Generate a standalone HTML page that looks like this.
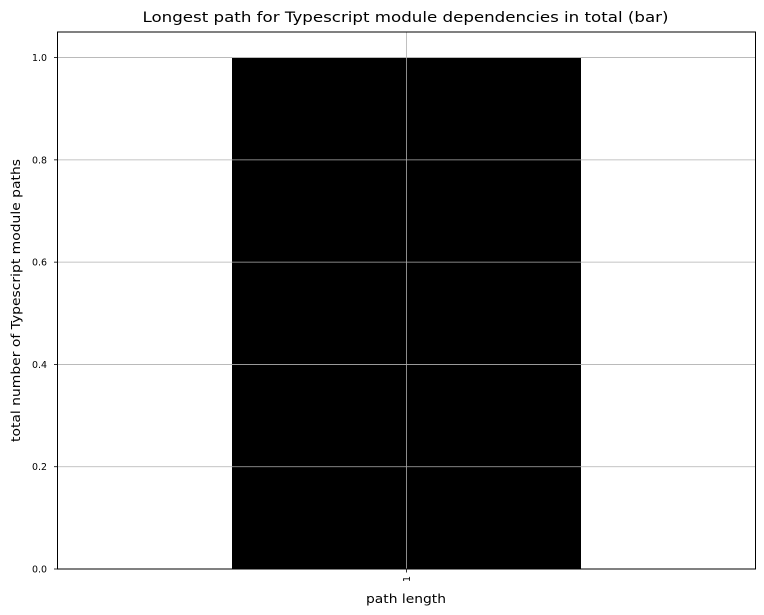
<!DOCTYPE html>
<html><head><meta charset="utf-8"><style>
body{margin:0;background:#fff;}
svg{display:block;font-family:"DejaVu Sans","Liberation Sans",sans-serif;}
</style></head><body>
<svg id="chart" width="764" height="615">
<text x="405.5" y="22" text-anchor="middle" font-size="14.5" textLength="526" lengthAdjust="spacingAndGlyphs">Longest path for Typescript module dependencies in total (bar)</text>
<text x="406" y="603" text-anchor="middle" font-size="12.5" textLength="80" lengthAdjust="spacingAndGlyphs">path length</text>
<text transform="translate(20,300.5) rotate(-90)" text-anchor="middle" font-size="12.5" textLength="283" lengthAdjust="spacingAndGlyphs">total number of Typescript module paths</text>
<g id="plot"></g>
</svg>
<script>
const categories = ["1"];
const values = [1];
const yTicks = [0, 0.2, 0.4, 0.6, 0.8, 1.0];
const yTickLabels = ["0.0","0.2","0.4","0.6","0.8","1.0"];

const L=57.5,R=755.5,T=32,B=569;
const yMax=1.05;
const ys=v=>B-(v/yMax)*(B-T);
const n=categories.length;
const xs=i=>L+((i+0.5)/n)*(R-L);
const bw=0.5*(R-L)/n;
const NS="http://www.w3.org/2000/svg";
const g=document.getElementById('plot');
function mk(tag,attrs){const e=document.createElementNS(NS,tag);for(const k in attrs)e.setAttribute(k,attrs[k]);g.appendChild(e);return e;}

values.forEach((v,i)=>{
  const r=mk('rect',{x:xs(i)-bw/2,y:ys(v),width:bw,height:B-ys(v),fill:'#000'});
  
  
});
yTicks.forEach((t,i)=>{
  const y=ys(t);
  const gl=mk('line',{x1:L,x2:R,y1:y,y2:y,stroke:'#b0b0b0','stroke-width':0.8});
  
  
  mk('line',{x1:L-3.5,x2:L,y1:y,y2:y,stroke:'#000','stroke-width':0.8});
  const tx=mk('text',{x:L-10.5,y:y+3.5,'text-anchor':'end','font-size':9.5,textLength:15,lengthAdjust:'spacingAndGlyphs'});
  tx.textContent=yTickLabels[i];
  
  
});
categories.forEach((c,i)=>{
  const x=xs(i);
  const gl=mk('line',{x1:x,x2:x,y1:T,y2:B,stroke:'#b0b0b0','stroke-width':0.8});
  
  
  mk('line',{x1:x,x2:x,y1:B,y2:B+3.5,stroke:'#000','stroke-width':0.8});
  const tx=mk('text',{'font-size':9.5,transform:`translate(${x+3.5},${B+7}) rotate(-90)`,'text-anchor':'end'});
  tx.textContent=c;
  
  
});
const fr=mk('rect',{x:L,y:T,width:R-L,height:B-T,fill:'none',stroke:'#000','stroke-width':1});


</script>
</body></html>
